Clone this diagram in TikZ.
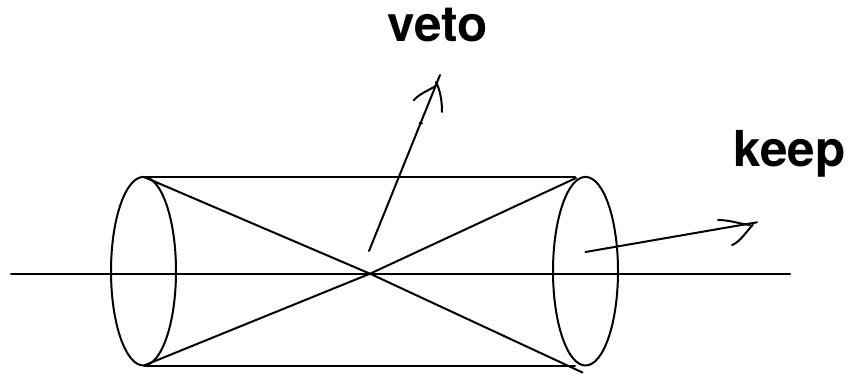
\documentclass[tikz,border=0pt]{standalone}
\usepackage{fontspec}
\setmainfont{TeX Gyre Heros}
\tikzset{
  ink/.style={line width=2pt,black,line cap=round,line join=round},
  labeltext/.style={font=\bfseries\fontsize{49.5}{52}\selectfont,inner sep=0pt,anchor=base,text=black}
}
\begin{document}
\begin{tikzpicture}[x=1pt,y=-1pt]
\useasboundingbox (0,0) rectangle (848,374);
\coordinate (ltop) at (144,177);
\coordinate (lbot) at (144,365.5);
\coordinate (lcen) at (143.5,271.2);
\coordinate (rcen) at (585.5,271.2);
\coordinate (axl) at (11,273.7);
\coordinate (axr) at (790,273.7);
\coordinate (topend) at (575,177);
\coordinate (botend) at (575,365.5);
\coordinate (diagA) at (582.5,372.5);
\coordinate (diagB) at (576,178);
\coordinate (cross) at (370,273.7);
\coordinate (vetoS) at (369,251);
\coordinate (vetoT) at (440,75);
\coordinate (keepS) at (585.5,252);
\coordinate (keepT) at (757,222.3);
\draw[ink] (lcen) ellipse [x radius=32.5,y radius=94.3];
\draw[ink] (rcen) ellipse [x radius=32.5,y radius=94.3];
\draw[ink] (axl) -- (axr);
\draw[ink] (ltop) -- (topend);
\draw[ink] (lbot) -- (botend);
\draw[ink] (ltop) -- (cross) -- (diagA);
\draw[ink] (lbot) -- (cross) -- (diagB);
\draw[ink] (vetoS) -- (vetoT);
\draw[ink] (413.5,100.5) .. controls (420,93) and (430,90) .. (437,85);
\draw[ink] (442,112) .. controls (442,100) and (440,90) .. (436,82);
\draw[ink] (419.5,123) -- (422,123.5);
\draw[ink] (keepS) -- (keepT);
\draw[ink] (718,220) .. controls (730,220) and (740,224) .. (750,225);
\draw[ink] (732,245) .. controls (740,242) and (746,232) .. (753,224.5);
\node[labeltext] (veto) at (437.5,42) {veto};
\node[labeltext] (keep) at (789.5,167) {keep};
\end{tikzpicture}
\end{document}
